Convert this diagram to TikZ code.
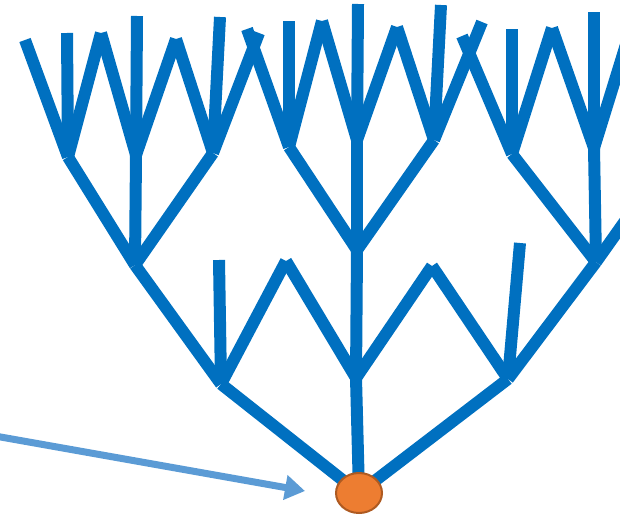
\documentclass[tikz,border=0pt]{standalone}
\usetikzlibrary{shapes.geometric,arrows.meta}
\definecolor{treeblue}{HTML}{0070C0}
\definecolor{arrowblue}{HTML}{5B9BD5}
\definecolor{rootfill}{HTML}{ED7D31}
\definecolor{rootedge}{HTML}{AE5A21}
\begin{document}
\begin{tikzpicture}[x=1pt,y=-1pt,
  branch/.style={draw=treeblue,line width=12pt,line cap=butt},
  pointer/.style={draw=arrowblue,line width=7pt,-{Triangle[length=20pt,width=24pt]}},
  rootnode/.style={ellipse,draw=rootedge,line width=2pt,fill=rootfill,minimum width=46pt,minimum height=40pt,inner sep=0pt}]
\clip (0,0) rectangle (620,519);
% root and level 2
\coordinate (r) at (359,493);
\coordinate (L2a) at (221,384);
\coordinate (L2b) at (356,378);
\coordinate (L2c) at (508,379);
\coordinate (ta2) at (219,260);
\coordinate (ap1) at (286,261);
\coordinate (ap2) at (432,266);
\coordinate (tc2) at (520,243);
% level 3
\coordinate (A) at (135,265);
\coordinate (B) at (357,250);
\coordinate (C) at (596,262);
% level 4
\coordinate (A1) at (68,157);
\coordinate (A2) at (136,155);
\coordinate (A3) at (213,153);
\coordinate (B1) at (289,147);
\coordinate (B2) at (357,140);
\coordinate (B3) at (434,140);
\coordinate (C1) at (512,154);
\coordinate (C2) at (594,148);
\coordinate (C3) at (674,152);
% tips
\coordinate (tA1l) at (25,40);
\coordinate (tA1v) at (67,33);
\coordinate (aA12) at (101,33);
\coordinate (tA2v) at (137,16);
\coordinate (aA23) at (176,39);
\coordinate (tA3v) at (220,17);
\coordinate (tA3r) at (259,33);
\coordinate (tB1l) at (247,29);
\coordinate (tB1v) at (289,21);
\coordinate (aB12) at (322,21);
\coordinate (tB2v) at (358,4);
\coordinate (aB23) at (397,27);
\coordinate (tB3v) at (441,5);
\coordinate (tB3r) at (482,22);
\coordinate (tC1l) at (462,36);
\coordinate (tC1v) at (512,29);
\coordinate (aC12) at (552,28);
\coordinate (tC2v) at (594,12);
\coordinate (tC2r) at (632,25);
\foreach \p/\q in {r/L2a,r/L2b,r/L2c,
  L2a/A,L2a/ta2,L2a/ap1,L2b/ap1,L2b/B,L2b/ap2,L2c/ap2,L2c/tc2,L2c/C,
  A/A1,A/A2,A/A3,B/B1,B/B2,B/B3,C/C1,C/C2,C/C3,
  A1/tA1l,A1/tA1v,A1/aA12,A2/aA12,A2/tA2v,A2/aA23,A3/aA23,A3/tA3v,A3/tA3r,
  B1/tB1l,B1/tB1v,B1/aB12,B2/aB12,B2/tB2v,B2/aB23,B3/aB23,B3/tB3v,B3/tB3r,
  C1/tC1l,C1/tC1v,C1/aC12,C2/aC12,C2/tC2v,C2/tC2r}
  \draw[branch] (\p) -- (\q);
\node[rootnode] (root) at (r) {};
\coordinate (src) at (-5,436);
\coordinate (dst) at (305,491);
\draw[pointer] (src) -- (dst);
\end{tikzpicture}
\end{document}
